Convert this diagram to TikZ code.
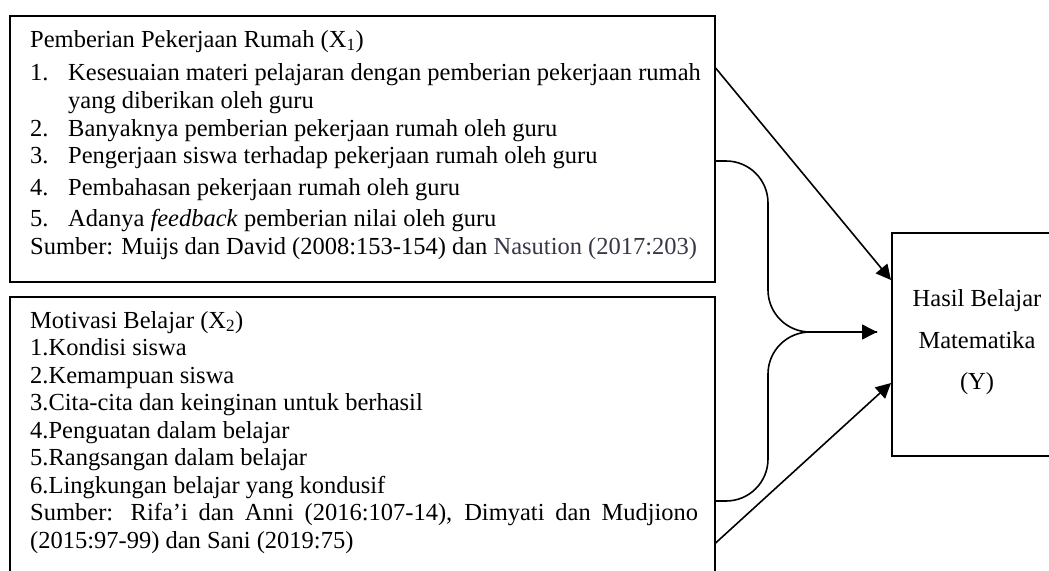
\documentclass[tikz,border=0pt]{standalone}
\usepackage{fontspec}
\setmainfont{Liberation Serif}
\usetikzlibrary{arrows.meta,calc}
\definecolor{srcgray}{RGB}{55,55,70}
\begin{document}
\begin{tikzpicture}[x=1pt,y=-1pt,
  box/.style={draw, line width=1.6pt, inner sep=0pt},
  txt/.style={inner sep=0pt, anchor=base west, font=\fontsize{24.5}{28}\selectfont},
  ctr/.style={inner sep=0pt, anchor=base, font=\fontsize{24.5}{28}\selectfont},
  conn/.style={line width=1.6pt},
  arr/.style={conn, -{Triangle[length=15pt,width=15pt]}}]
\useasboundingbox (0,0) rectangle (1049,570);
\clip (0,0) rectangle (1049,570);
% boxes
\node[box, minimum width=705pt, minimum height=266pt, anchor=north west] (b1) at (9,15) {};
\node[box, minimum width=705pt, minimum height=290pt, anchor=north west] (b2) at (9,296) {};
\node[box, minimum width=170pt, minimum height=223pt, anchor=north west] (by) at (891,232) {};
% box 1 text
\node[txt] (h1) at (30,47) {Pemberian Pekerjaan Rumah (X\textsubscript{1})};
\node[txt] (a1) at (30,80) {1.};
\node[txt] (a1t) at (68,80) {Kesesuaian materi pelajaran dengan pemberian pekerjaan rumah};
\node[txt] (a1u) at (68,108) {yang diberikan oleh guru};
\node[txt] (a2) at (30,136) {2.};
\node[txt] (a2t) at (68,136) {Banyaknya pemberian pekerjaan rumah oleh guru};
\node[txt] (a3) at (30,163) {3.};
\node[txt] (a3t) at (68,163) {Pengerjaan siswa terhadap pekerjaan rumah oleh guru};
\node[txt] (a4) at (30,195) {4.};
\node[txt] (a4t) at (68,195) {Pembahasan pekerjaan rumah oleh guru};
\node[txt] (a5) at (30,226) {5.};
\node[txt] (a5t) at (68,226) {Adanya \textit{feedback} pemberian nilai oleh guru};
\node[txt] (s1) at (30,254) {Sumber: Muijs dan David (2008:153-154) dan \textcolor{srcgray}{Nasution (2017:203)}};
% box 2 text
\node[txt] (h2) at (30,328) {Motivasi Belajar (X\textsubscript{2})};
\node[txt] (m1) at (30,355) {1.Kondisi siswa};
\node[txt] (m2) at (30,383) {2.Kemampuan siswa};
\node[txt] (m3) at (30,410) {3.Cita-cita dan keinginan untuk berhasil};
\node[txt] (m4) at (30,438) {4.Penguatan dalam belajar};
\node[txt] (m5) at (30,465) {5.Rangsangan dalam belajar};
\node[txt] (m6) at (30,493) {6.Lingkungan belajar yang kondusif};
\node[txt] (s2) at (30,520) {\makebox[668pt][s]{Sumber: Rifa’i dan Anni (2016:107-14), Dimyati dan Mudjiono}};
\node[txt] (s2b) at (30,548) {(2015:97-99) dan Sani (2019:75)};
% Y box text
\node[ctr] (y1) at (977,306) {Hasil Belajar};
\node[ctr] (y2) at (977,348) {Matematika};
\node[ctr] (y3) at (977,389) {(Y)};
% connector points
\coordinate (p1) at ($(b1.north east)+(0,53)$);
\coordinate (p2) at ($(b1.north east)+(0,146)$);
\coordinate (p3) at ($(b2.north east)+(0,205)$);
\coordinate (p4) at ($(b2.north east)+(0,247)$);
\coordinate (q1) at ($(by.north west)+(0,48)$);
\coordinate (q4) at ($(by.north west)+(0,151)$);
\coordinate (mid) at (877,332);
\coordinate (bend) at (768,332);
% connectors
\draw[arr] (p1) -- (q1);
\draw[arr, rounded corners=42pt] (p2) -| (bend) -- (mid);
\draw[conn, rounded corners=42pt] (p3) -| (bend) -- (mid);
\draw[arr] (p4) -- (q4);
\end{tikzpicture}
\end{document}
